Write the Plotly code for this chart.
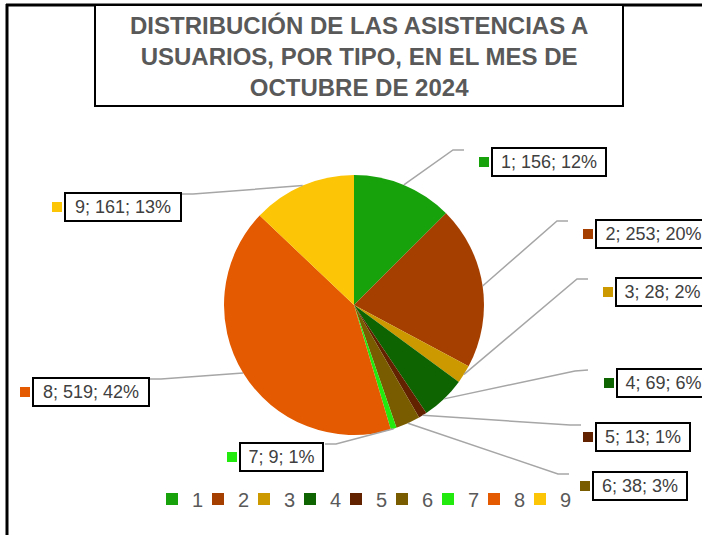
import math
import plotly.graph_objects as go

# ---------------- data ----------------
categories = ["1", "2", "3", "4", "5", "6", "7", "8", "9"]
values = [156, 253, 28, 69, 13, 38, 9, 519, 161]
pct_labels = ["12%", "20%", "2%", "6%", "1%", "3%", "1%", "42%", "13%"]
colors = ["#17A20B", "#A53F00", "#CC9A00", "#0D6400", "#622200",
          "#7A5C00", "#22EA0E", "#E35A00", "#FCC506"]
title_lines = ["DISTRIBUCIÓN DE LAS ASISTENCIAS A",
               "USUARIOS, POR TIPO, EN EL MES DE",
               "OCTUBRE DE 2024"]

# ---------------- layout constants (pixels) ----------------
W, H = 702, 535
FONT = "Liberation Sans, Arial, sans-serif"
PIE_CX, PIE_CY, PIE_R = 354, 305, 130

# label boxes: left x, centre y, box width
box_left = [491, 595, 615, 616, 595, 592, 239, 32, 64]
box_cy = [162, 234, 292, 383, 437, 486, 457, 392, 207]
box_w = [116, 117, 95, 95, 96, 96, 85, 118, 118]
# leader line elbow and end points
elbow = [(453, 150), (557, 221), (577, 279), (575, 371), (570, 425),
         (558, 474), (336, 444), (161, 379), (193, 194)]
lend = [(464, 150), (568, 221), (588, 279), (588, 370), (581, 425),
        (569, 474), (325, 444), (150, 379), (182, 194)]


def px(x):
    return x / W


def py(y):
    return 1 - y / H


fig = go.Figure()
fig.add_trace(go.Pie(
    labels=categories,
    values=values,
    marker=dict(colors=colors, line=dict(width=0)),
    sort=False,
    direction="clockwise",
    rotation=0,
    textinfo="none",
    domain=dict(x=[px(PIE_CX - PIE_R), px(PIE_CX + PIE_R)],
                y=[py(PIE_CY + PIE_R), py(PIE_CY - PIE_R)]),
))
# invisible spacer entry so the last legend label is not clipped
fig.add_trace(go.Scatter(
    x=[None], y=[None], mode="lines", name=" ",
    line=dict(color="rgba(0,0,0,0)", width=0),
    showlegend=True, hoverinfo="skip"))

shapes = []
annotations = []

# outer frame (top + left edges visible)
shapes.append(dict(type="line", xref="paper", yref="paper",
                   x0=px(6), y0=py(5), x1=px(702), y1=py(5),
                   line=dict(color="black", width=3)))
shapes.append(dict(type="line", xref="paper", yref="paper",
                   x0=px(7), y0=py(4), x1=px(7), y1=py(535),
                   line=dict(color="black", width=3)))

# title box
shapes.append(dict(type="rect", xref="paper", yref="paper",
                   x0=px(95), y0=py(106), x1=px(623), y1=py(5),
                   line=dict(color="black", width=2), fillcolor="white"))
annotations.append(dict(
    text="<br>".join(title_lines), xref="paper", yref="paper",
    x=px(359), y=py(57), xanchor="center", yanchor="middle",
    showarrow=False, align="center",
    font=dict(family=FONT, size=24, color="#595959", weight="bold")))

# leader lines + labels
total = sum(values)
cum = 0
for i, v in enumerate(values):
    mid = (cum + v / 2) / total * 2 * math.pi
    cum += v
    sx = PIE_CX + PIE_R * math.sin(mid)
    sy = PIE_CY - PIE_R * math.cos(mid)
    ex, ey = elbow[i]
    fx, fy = lend[i]
    path = "M {:.5f},{:.5f} L {:.5f},{:.5f} L {:.5f},{:.5f}".format(
        px(sx), py(sy), px(ex), py(ey), px(fx), py(fy))
    shapes.append(dict(type="path", xref="paper", yref="paper", path=path,
                       line=dict(color="#A6A6A6", width=1.5)))
    # colour square
    bl, cy = box_left[i], box_cy[i]
    shapes.append(dict(type="rect", xref="paper", yref="paper",
                       x0=px(bl - 12), x1=px(bl - 2),
                       y0=py(cy + 5), y1=py(cy - 5),
                       line=dict(width=0), fillcolor=colors[i]))
    annotations.append(dict(
        text=f"{categories[i]}; {v}; {pct_labels[i]}",
        xref="paper", yref="paper", x=px(bl), y=py(cy),
        xanchor="left", yanchor="middle", showarrow=False,
        width=box_w[i] - 10, align="center",
        bordercolor="black", borderwidth=2, borderpad=3, bgcolor="white",
        font=dict(family=FONT, size=18, color="#404040")))

fig.update_layout(
    width=W, height=H,
    margin=dict(l=0, r=0, t=0, b=0),
    paper_bgcolor="white", plot_bgcolor="white",
    xaxis=dict(visible=False), yaxis=dict(visible=False),
    shapes=shapes, annotations=annotations,
    showlegend=True,
    legend=dict(orientation="h", x=px(152), y=py(499),
                xanchor="left", yanchor="middle",
                font=dict(family=FONT, size=20, color="#595959"),
                entrywidth=1, entrywidthmode="pixels",
                itemwidth=30, traceorder="normal",
                bgcolor="rgba(0,0,0,0)"),
)

fig.write_html(
    "out.html",
    config={"displayModeBar": False},
    post_script="document.body.style.margin='0';"
                "document.body.style.overflow='hidden';")
